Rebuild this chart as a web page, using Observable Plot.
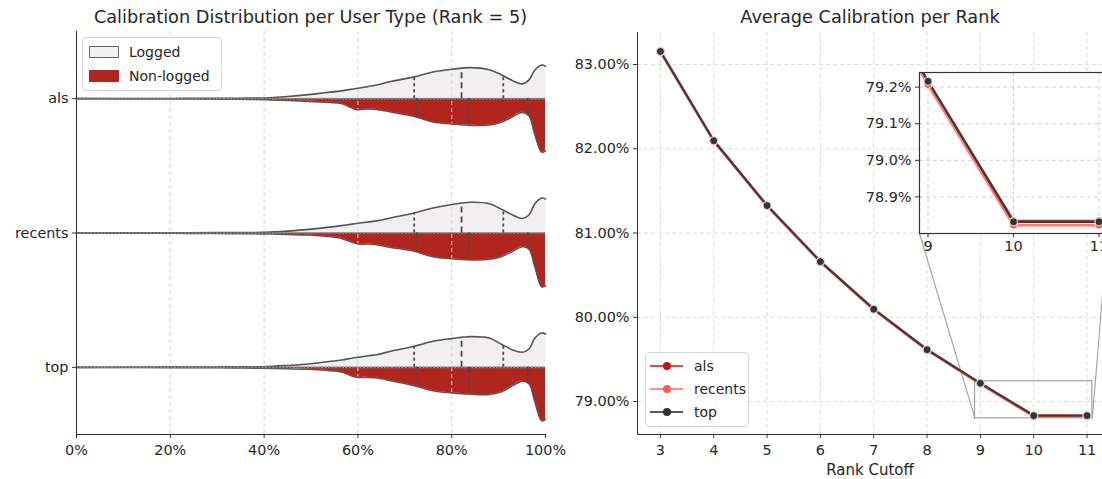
<!DOCTYPE html>
<html><head><meta charset="utf-8">
<script src="https://cdn.jsdelivr.net/npm/d3@7"></script>
<script src="https://cdn.jsdelivr.net/npm/@observablehq/plot@0.6"></script>
<style>
html,body{margin:0;padding:0;background:#fff;overflow:hidden;}
#wrap{position:relative;width:1102px;height:479px;overflow:hidden;font-family:"DejaVu Sans",sans-serif;color:#262626;}
#wrap > svg{position:absolute;}
.title{position:absolute;top:7px;font-size:17.7px;line-height:20px;white-space:nowrap;transform:translateX(-50%);}
.legend{position:absolute;background:rgba(255,255,255,0.85);border:1px solid #d6d6d6;border-radius:4px;box-sizing:border-box;font-size:14px;}
.item{position:absolute;left:0;height:20px;line-height:20px;white-space:nowrap;}
.sw{position:absolute;box-sizing:border-box;}
</style></head><body><div id="wrap"></div><script>
// ---------- data ----------
const userTypes = ["als", "recents", "top"];
const userGroups = ["Logged", "Non-logged"];
const calibX = [0,10,20,30,35,40,45,49.5,53,56.5,58.7,60,62.2,64,67,72,76,80,84,88,90.5,93,95,96.5,97.7,99.2,100];
const loggedAls      = [0,0.002,0.004,0.007,0.009,0.013,0.04,0.075,0.11,0.145,0.175,0.195,0.225,0.255,0.32,0.405,0.495,0.547,0.578,0.54,0.45,0.335,0.275,0.35,0.53,0.625,0.6];
const nonLoggedAls   = [0,0.003,0.006,0.009,0.012,0.018,0.032,0.05,0.065,0.09,0.17,0.205,0.19,0.2,0.248,0.33,0.435,0.47,0.497,0.49,0.44,0.335,0.255,0.32,0.66,0.995,0.97];
const loggedRecents  = [0,0.002,0.004,0.007,0.009,0.012,0.035,0.068,0.1,0.137,0.165,0.18,0.205,0.225,0.28,0.373,0.466,0.53,0.572,0.545,0.448,0.336,0.27,0.34,0.54,0.65,0.63];
const nonLoggedRecents = [0,0.003,0.006,0.009,0.012,0.017,0.027,0.037,0.06,0.1,0.17,0.205,0.205,0.22,0.267,0.34,0.44,0.48,0.5,0.49,0.44,0.34,0.255,0.3,0.62,1.0,0.98];
const loggedTop      = [0,0.002,0.004,0.007,0.009,0.012,0.035,0.062,0.1,0.137,0.17,0.187,0.215,0.235,0.3,0.392,0.485,0.535,0.572,0.545,0.435,0.323,0.28,0.342,0.54,0.64,0.62];
const nonLoggedTop   = [0,0.003,0.006,0.009,0.012,0.017,0.027,0.037,0.055,0.085,0.16,0.187,0.187,0.2,0.248,0.34,0.435,0.475,0.5,0.505,0.46,0.34,0.26,0.31,0.63,0.995,0.97];
const quartLogged    = [72.0, 82.1, 91.0];
const quartNonLogged = [72.6, 83.7, 96.2];
const pctTicks = [0, 20, 40, 60, 80, 100];

const ranks      = [3, 4, 5, 6, 7, 8, 9, 10, 11];
const alsCal     = [83.157, 82.097, 81.327, 80.662, 80.097, 79.617, 79.214, 78.834, 78.834];
const recentsCal = [83.150, 82.090, 81.319, 80.654, 80.089, 79.609, 79.207, 78.823, 78.823];
const topCal     = [83.155, 82.095, 81.325, 80.660, 80.095, 79.615, 79.216, 78.832, 78.832];
const calTicks   = [79, 80, 81, 82, 83];
const zoomRank   = [8.9, 11.1];
const zoomCal    = [78.80, 79.24];
const insetCalTicks  = [78.9, 79.0, 79.1, 79.2];
const insetRankTicks = [9, 10, 11];

const seriesNames  = ["als", "recents", "top"];
const lineColors   = ["#d42f2c", "#ff7a72", "#3a3a3a"];
const dotColors    = ["#c21414", "#ff5a4f", "#333333"];
const loggedFill = "#f1eff0", nonLoggedFill = "#b0261e";

// ---------- derived tables ----------
const W = 0.4;
const loggedSeries = [loggedAls, loggedRecents, loggedTop];
const nonLoggedSeries = [nonLoggedAls, nonLoggedRecents, nonLoggedTop];
const violinRows = [];
userTypes.forEach((t, i) => calibX.forEach((x, j) =>
  violinRows.push({type: t, idx: i, x, up: loggedSeries[i][j], down: nonLoggedSeries[i][j]})));
function interp(xs, ys, x) {
  for (let k = 0; k < xs.length - 1; k++) {
    if (x >= xs[k] && x <= xs[k + 1]) {
      const t = (x - xs[k]) / (xs[k + 1] - xs[k]);
      return ys[k] + t * (ys[k + 1] - ys[k]);
    }
  }
  return ys[ys.length - 1];
}
const quartRows = [];
userTypes.forEach((t, i) => {
  quartLogged.forEach((q, k) => quartRows.push({idx: i, x: q, side: -1, d: interp(calibX, loggedSeries[i], q), median: k === 1}));
  quartNonLogged.forEach((q, k) => quartRows.push({idx: i, x: q, side: 1, d: interp(calibX, nonLoggedSeries[i], q), median: k === 1}));
});
const calSeries = [alsCal, recentsCal, topCal];
const seriesRows = seriesNames.map((s, si) => ranks.map((r, i) => ({series: s, rank: r, cal: calSeries[si][i]})));

const baseStyle = {background: "transparent", fontFamily: "DejaVu Sans", fontSize: "14.4px", color: "#262626", overflow: "visible"};
const wrap = document.getElementById("wrap");

// ---------- left panel ----------
const left = Plot.plot({
  width: 560, height: 479, marginLeft: 76, marginRight: 15, marginTop: 31, marginBottom: 45,
  style: baseStyle,
  x: {domain: [0, 100]},
  y: {domain: [-0.5, 2.5], reverse: true},
  marks: [
    Plot.areaY(violinRows, {x: "x", y1: "idx", y2: d => d.idx - W * d.up, z: "type", fill: loggedFill, curve: "catmull-rom"}),
    Plot.areaY(violinRows, {x: "x", y1: "idx", y2: d => d.idx + W * d.down, z: "type", fill: nonLoggedFill, curve: "catmull-rom"}),
    Plot.ruleX(pctTicks.slice(1, -1), {stroke: "#d6d6d6", strokeDasharray: "4,3"}),
    Plot.line(violinRows, {x: "x", y: d => d.idx - W * d.up, z: "type", stroke: "#555", strokeWidth: 1.6, curve: "catmull-rom"}),
    Plot.line(violinRows, {x: "x", y: d => d.idx + W * d.down, z: "type", stroke: "#555", strokeWidth: 1.6, curve: "catmull-rom"}),
    Plot.ruleY([0, 1, 2], {x1: () => 0, x2: () => 100, stroke: "#8c8c8c", strokeWidth: 1.6, strokeDasharray: "2,1.5"}),
    Plot.ruleX(quartRows.filter(d => !d.median), {x: "x", y1: "idx", y2: d => d.idx + d.side * W * d.d, stroke: "#4a4a4a", strokeWidth: 1.8, strokeDasharray: "3,3"}),
    Plot.ruleX(quartRows.filter(d => d.median), {x: "x", y1: "idx", y2: d => d.idx + d.side * W * d.d, stroke: "#4a4a4a", strokeWidth: 1.8, strokeDasharray: "6,4"}),
    Plot.ruleX([0], {stroke: "#333"}),
    Plot.ruleY([2.5], {stroke: "#333"}),
    Plot.axisX({ticks: pctTicks, tickFormat: d => d + "%", tickSize: 4, tickPadding: 6, label: null, stroke: "#333"}),
    Plot.axisY({ticks: [0, 1, 2], tickFormat: i => userTypes[i], tickSize: 4, tickPadding: 4, label: null, stroke: "#333"})
  ]
});
left.style.left = "0px"; left.style.top = "0px";
wrap.appendChild(left);

// ---------- right panel ----------
const RX = 560, RW = 542;
const insetLeftPx = 919, insetTopPx = 72, insetBottomPx = 233, insetRightPx = 1107;
const insetML = 70, insetMT = 10, insetMB = 30;

function rightPlot(extra) {
  const marks = [
    Plot.ruleX(ranks, {stroke: "#dcdcdc", strokeDasharray: "4,3"}),
    Plot.ruleY(calTicks, {stroke: "#dcdcdc", strokeDasharray: "4,3"}),
    Plot.rect([0], {x1: () => zoomRank[0], x2: () => zoomRank[1], y1: () => zoomCal[0], y2: () => zoomCal[1], fill: "none", stroke: "#a0a0a0", strokeWidth: 1.2}),
    ...extra
  ];
  seriesRows.forEach((rows, si) => {
    marks.push(Plot.line(rows, {x: "rank", y: "cal", stroke: lineColors[si], strokeWidth: si === 2 ? 2 : 2.6}));
  });
  seriesRows.forEach((rows, si) => {
    marks.push(Plot.dot(rows, {x: "rank", y: "cal", fill: dotColors[si], stroke: "white", strokeWidth: 0.8, r: 4}));
  });
  marks.push(
    Plot.ruleX([2.57], {stroke: "#333"}),
    Plot.ruleY([78.608], {stroke: "#333"}),
    Plot.axisX({ticks: ranks, tickSize: 4, tickPadding: 6, label: null, stroke: "#333"}),
    Plot.axisY({ticks: calTicks, tickFormat: d => d.toFixed(2) + "%", tickSize: 4, tickPadding: 4, label: null, stroke: "#333"}),
    Plot.text(["Rank Cutoff"], {frameAnchor: "bottom", dy: 40, fontSize: 15, fill: "#262626"})
  );
  return Plot.plot({
    width: RW, height: 479, marginLeft: 77, marginRight: 0, marginTop: 32, marginBottom: 45,
    style: baseStyle,
    x: {domain: [2.57, 11.29]},
    y: {domain: [78.608, 83.38]},
    marks
  });
}
const probe = rightPlot([]);
const sx = probe.scale("x"), sy = probe.scale("y");
const invX = d3.scaleLinear().domain(sx.range).range(sx.domain);
const invY = d3.scaleLinear().domain(sy.range).range(sy.domain);
const connectors = [
  {x1: zoomRank[0], y1: zoomCal[0], x2: invX(insetLeftPx - RX), y2: invY(insetBottomPx)},
  {x1: zoomRank[1], y1: zoomCal[0], x2: invX(insetRightPx - RX), y2: invY(insetBottomPx)}
];
const right = rightPlot([Plot.link(connectors, {x1: "x1", y1: "y1", x2: "x2", y2: "y2", stroke: "#a0a0a0", strokeWidth: 1.1})]);
right.style.left = RX + "px"; right.style.top = "0px";
wrap.appendChild(right);

// ---------- inset ----------
const insetMarks = [
  Plot.frame({fill: "white", stroke: null}),
  Plot.ruleX(insetRankTicks, {stroke: "#cfcfcf", strokeDasharray: "4,3"}),
  Plot.ruleY(insetCalTicks, {stroke: "#cfcfcf", strokeDasharray: "4,3"})
];
seriesRows.forEach((rows, si) => insetMarks.push(Plot.line(rows, {x: "rank", y: "cal", stroke: lineColors[si], strokeWidth: si === 2 ? 2.2 : 2.8, clip: true})));
seriesRows.forEach((rows, si) => insetMarks.push(Plot.dot(rows, {x: "rank", y: "cal", fill: dotColors[si], stroke: "white", strokeWidth: 0.8, r: 4, clip: true})));
insetMarks.push(
  Plot.frame({stroke: "#333", strokeWidth: 1.2}),
  Plot.axisX({ticks: insetRankTicks, tickFormat: d => String(d), tickSize: 4, tickPadding: 3, label: null, stroke: "#333"}),
  Plot.axisY({ticks: insetCalTicks, tickFormat: d => d.toFixed(1) + "%", tickSize: 4, tickPadding: 4, label: null, stroke: "#333"})
);
const inset = Plot.plot({
  width: insetRightPx - insetLeftPx + insetML,
  height: insetBottomPx - insetTopPx + insetMT + insetMB,
  marginLeft: insetML, marginRight: 0, marginTop: insetMT, marginBottom: insetMB,
  style: baseStyle,
  x: {domain: zoomRank},
  y: {domain: zoomCal},
  marks: insetMarks
});
inset.style.left = (insetLeftPx - insetML) + "px"; inset.style.top = (insetTopPx - insetMT) + "px";
wrap.appendChild(inset);

// ---------- titles ----------
function addTitle(text, cx) {
  const t = document.createElement("div");
  t.className = "title"; t.textContent = text; t.style.left = cx + "px";
  wrap.appendChild(t);
}
addTitle("Calibration Distribution per User Type (Rank = 5)", 310.5);
addTitle("Average Calibration per Rank", 870);

// ---------- legends ----------
const lg1 = document.createElement("div");
lg1.className = "legend";
Object.assign(lg1.style, {left: "82px", top: "37px", width: "140px", height: "54px"});
userGroups.forEach((g, i) => {
  const it = document.createElement("div");
  it.className = "item"; it.style.top = (4 + i * 24) + "px"; it.style.width = "100%";
  const sw = document.createElement("div");
  sw.className = "sw";
  Object.assign(sw.style, {left: "6px", top: "4px", width: "30px", height: "12px",
    background: i === 0 ? loggedFill : nonLoggedFill, border: "1px solid " + (i === 0 ? "#666" : nonLoggedFill)});
  const tx = document.createElement("span");
  tx.textContent = g; tx.style.position = "absolute"; tx.style.left = "46px";
  it.appendChild(sw); it.appendChild(tx); lg1.appendChild(it);
});
wrap.appendChild(lg1);

const lg2 = document.createElement("div");
lg2.className = "legend";
Object.assign(lg2.style, {left: "645px", top: "352px", width: "104px", height: "75px"});
seriesNames.forEach((s, i) => {
  const it = document.createElement("div");
  it.className = "item"; it.style.top = (3 + i * 23) + "px"; it.style.width = "100%";
  const ln = document.createElement("div");
  ln.className = "sw";
  Object.assign(ln.style, {left: "4px", top: "9px", width: "33px", height: "2px", background: lineColors[i], opacity: 0.85});
  const dt = document.createElement("div");
  dt.className = "sw";
  Object.assign(dt.style, {left: "17px", top: "6px", width: "8px", height: "8px", borderRadius: "50%", background: dotColors[i]});
  const tx = document.createElement("span");
  tx.textContent = s; tx.style.position = "absolute"; tx.style.left = "48px";
  it.appendChild(ln); it.appendChild(dt); it.appendChild(tx); lg2.appendChild(it);
});
wrap.appendChild(lg2);
</script></body></html>
